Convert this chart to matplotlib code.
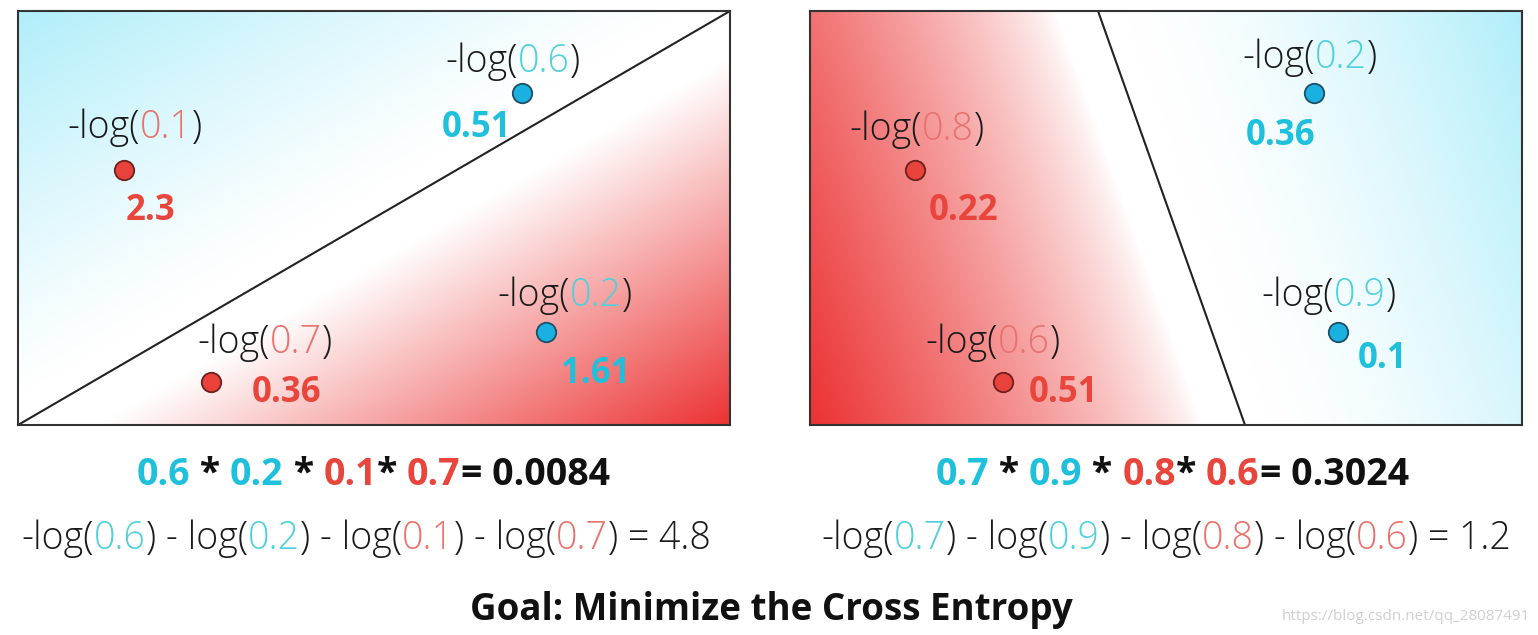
import matplotlib
matplotlib.use("Agg")
import matplotlib.pyplot as plt
import numpy as np

plt.rcParams['font.family'] = ['Open Sans', 'DejaVu Sans']

# panel data (panel pixel units, y down)
left_x = [106, 504, 528, 193]
left_y = [159, 82, 321, 371]
left_cls = ['red', 'blue', 'blue', 'red']
left_p = ['0.1', '0.6', '0.2', '0.7']
left_val = ['2.3', '0.51', '1.61', '0.36']
left_line = [(0, 414), (712, 0)]

right_x = [105, 193, 504, 528]
right_y = [159, 371, 82, 321]
right_cls = ['red', 'red', 'blue', 'blue']
right_p = ['0.8', '0.6', '0.2', '0.9']
right_val = ['0.22', '0.51', '0.36', '0.1']
right_line = [(288, 0), (435, 414)]

left_prod = ['0.6', '0.2', '0.1', '0.7']
left_result = '0.0084'
left_ce = '4.8'
right_prod = ['0.7', '0.9', '0.8', '0.6']
right_result = '0.3024'
right_ce = '1.2'
prod_cls = ['blue', 'blue', 'red', 'red']

# label offsets from the point: (dx, dy) for -log label and value label
left_off = [((11, -32), (27, 50)), ((-9, -21), (-46, 44)),
            ((19, -26), (50, 51)), ((54, -29), (76, 20))]
right_off = [((2, -30), (49, 50)), ((-10, -29), (61, 20)),
             ((-4, -25), (-33, 52)), ((-9, -26), (45, 36))]

W, H = 712, 414
BOLD_C = {'red': '#e8453c', 'blue': '#1ec0dc'}
LIGHT_C = {'red': '#e8736e', 'blue': '#4fd0dc'}
FACE = {'red': '#e8423a', 'blue': '#1ab0e0'}
EDGE = {'red': '#6b2020', 'blue': '#1d4f66'}
RED = np.array([236, 50, 50]) / 255.
CYAN = np.array([176, 238, 250]) / 255.


def shade(line, red_sign, wr, gr, wb, gb):
    (x0, y0), (x1, y1) = line
    xx, yy = np.meshgrid(np.arange(W) + 0.5, np.arange(H) + 0.5)
    dx, dy = x1 - x0, y1 - y0
    s = ((xx - x0) * dy - (yy - y0) * dx) / np.hypot(dx, dy) * red_sign
    r = np.clip((s - wr) / (s.max() - wr), 0, 1) ** gr
    b = np.clip((-s - wb) / ((-s).max() - wb), 0, 1) ** gb
    img = np.ones((H, W, 3))
    img = img * (1 - r[..., None]) + RED * r[..., None]
    img = img * (1 - b[..., None]) + CYAN * b[..., None]
    return img


fig = plt.figure(figsize=(15.38, 6.35), dpi=100)
bg = fig.add_axes([0, 0, 1, 1])
bg.set_xlim(0, 1538)
bg.set_ylim(635, 0)
bg.axis('off')
renderer = fig.canvas.get_renderer()


def text_w(s, **kw):
    t = bg.text(0, 0, '|' + s + '|', **kw)
    w = t.get_window_extent(renderer).width
    t.remove()
    t = bg.text(0, 0, '||', **kw)
    w -= t.get_window_extent(renderer).width
    t.remove()
    return w


def pieces(parts, xc, yb, **kw):
    widths = [text_w(s, **kw) for s, c in parts]
    x = xc - sum(widths) / 2
    for (s, c), w in zip(parts, widths):
        bg.text(x, yb, s, color=c, ha='left', va='baseline', **kw)
        x += w


def panel(x0, xs, ys, cls, ps, vals, offs, line, shading):
    ax = fig.add_axes([x0 / 1538, (635 - 425) / 635, W / 1538, H / 635])
    ax.imshow(shade(line, *shading), extent=(0, W, H, 0), aspect='auto',
              interpolation='bilinear')
    ax.plot([line[0][0], line[1][0]], [line[0][1], line[1][1]],
            color='#222222', lw=1.5)
    for x, y, c, p, v, (lo, vo) in zip(xs, ys, cls, ps, vals, offs):
        ax.plot(x, y, 'o', ms=14, mfc=FACE[c], mec=EDGE[c], mew=1.3)
        lab = dict(fontsize=27, fontweight='light')
        tw = [text_w(s, **lab) for s in ['-log(', p, ')']]
        xl = x + lo[0] - sum(tw) / 2
        for s, col, w in zip(['-log(', p, ')'],
                             ['#1a1a1a', LIGHT_C[c], '#1a1a1a'], tw):
            ax.text(xl, y + lo[1], s, color=col, ha='left', va='baseline',
                    **lab)
            xl += w
        ax.text(x + vo[0], y + vo[1], v, color=BOLD_C[c], fontsize=25,
                fontweight='bold', ha='center', va='baseline')
    ax.set_xlim(0, W)
    ax.set_ylim(H, 0)
    ax.set_xticks([])
    ax.set_yticks([])
    for sp in ax.spines.values():
        sp.set_color('#333333')
        sp.set_linewidth(1.5)


panel(18, left_x, left_y, left_cls, left_p, left_val, left_off, left_line,
      (-1, 40, 1.0, 25, 1.15))
panel(810, right_x, right_y, right_cls, right_p, right_val, right_off,
      right_line, (-1, 40, 0.8, 25, 1.5))


def equations(prod, result, ce, xc1, xc2):
    seps = [' * ', ' * ', '* ', '= ']
    parts = []
    for v, c, sp in zip(prod, prod_cls, seps):
        parts.append((v, BOLD_C[c]))
        parts.append((sp + (result if sp == '= ' else ''), '#111111'))
    pieces(parts, xc1, 485, fontsize=27, fontweight='bold')
    parts = []
    for i, (v, c) in enumerate(zip(prod, prod_cls)):
        parts.append(('-log(' if i == 0 else ') - log(', '#1a1a1a'))
        parts.append((v, LIGHT_C[c]))
    parts.append((') = ' + ce, '#1a1a1a'))
    pieces(parts, xc2, 549, fontsize=27, fontweight='light')


equations(left_prod, left_result, left_ce, 373, 366)
equations(right_prod, right_result, right_ce, 1172, 1166)

bg.text(771, 620, 'Goal: Minimize the Cross Entropy', fontsize=26.5,
        fontweight='bold', color='#111111', ha='center', va='baseline')
bg.text(1530, 620, 'https://blog.csdn.net/qq_28087491', fontsize=11,
        color='#d0d0d0', ha='right', va='baseline')

fig.savefig('out.png', dpi=100)
